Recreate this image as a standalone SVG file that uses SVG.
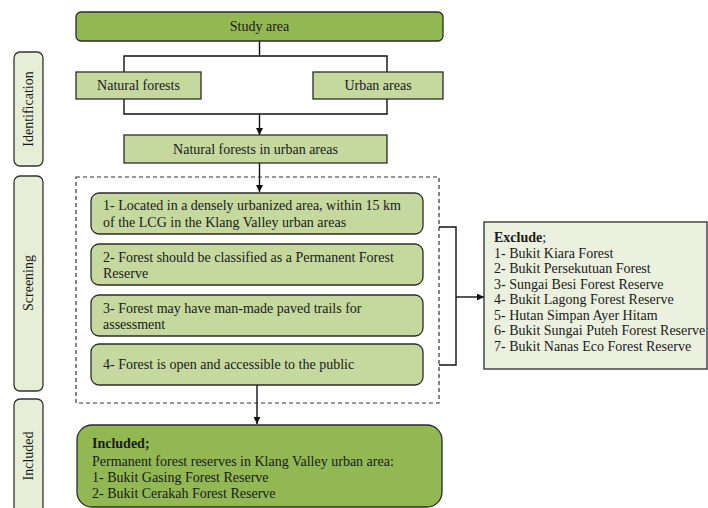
<svg xmlns="http://www.w3.org/2000/svg" width="708" height="508" viewBox="0 0 708 508">
<style>
text{font-family:"Liberation Serif","Times New Roman",serif;fill:#1a1a1a}
.dark{fill:#92b853;stroke:#2b2b2b;stroke-width:1.3}
.light{fill:#c5d89e;stroke:#2b2b2b;stroke-width:1.3}
.pale{fill:#ebf1de;stroke:#2b2b2b;stroke-width:1.3}
.side{fill:#e6eed5;stroke:#333;stroke-width:1.3}
.ln{fill:none;stroke:#111;stroke-width:1.4}
.c{font-size:14px;text-anchor:middle}
.t{font-size:14px}
.e{font-size:14px}
.v{font-size:14px;text-anchor:middle}
</style>
<defs>
<marker id="ah" viewBox="0 0 10 10" refX="10" refY="5" markerWidth="7" markerHeight="7" orient="auto" markerUnits="userSpaceOnUse">
<path d="M0,0 L10,5 L0,10 z" fill="#111"/>
</marker>
</defs>

<g id="label-identification"><rect class="side" x="14" y="52" width="29" height="114" rx="6"/><text class="v" transform="translate(33,109) rotate(-90)">Identification</text></g>
<g id="label-screening"><rect class="side" x="14" y="176" width="29" height="215" rx="6"/><text class="v" transform="translate(33,283) rotate(-90)">Screening</text></g>
<g id="label-included"><rect class="side" x="14" y="399" width="29" height="120" rx="6"/><text class="v" transform="translate(33,456) rotate(-90)">Included</text></g>

<g id="connectors">
<path class="ln" d="M259.5,41 V56 M124,72 V56 H387 V72"/>
<path class="ln" d="M124,99 V114 H387 V99 M259.5,114 V135" marker-end="url(#ah)"/>
<path class="ln" d="M259.5,163 V192" marker-end="url(#ah)"/>
<path class="ln" d="M439,227 H456 V365 H439"/>
<path class="ln" d="M456,297 H484" marker-end="url(#ah)"/>
<path class="ln" d="M257,385 V424" marker-end="url(#ah)"/>
</g>

<g id="study-area"><rect class="dark" x="76" y="12" width="367" height="29" rx="5"/><text class="c" x="259.5" y="31">Study area</text></g>
<g id="natural-forests"><rect class="light" x="76" y="72" width="125" height="27"/><text class="c" x="138.5" y="90">Natural forests</text></g>
<g id="urban-areas"><rect class="light" x="313" y="72" width="130" height="27"/><text class="c" x="378" y="90">Urban areas</text></g>
<g id="natural-forests-urban"><rect class="light" x="124" y="135" width="263" height="28"/><text class="c" x="255.5" y="154">Natural forests in urban areas</text></g>

<g id="screening-group"><rect x="76" y="177" width="363" height="226" fill="none" stroke="#333" stroke-width="1.2" stroke-dasharray="4,3"/></g>
<g id="criterion-1"><rect class="light" x="91" y="193" width="332" height="41" rx="8"/><text class="t" x="103" y="210">1- Located in a densely urbanized area, within 15 km</text><text class="t" x="103" y="227">of the LCG in the Klang Valley urban areas</text></g>
<g id="criterion-2"><rect class="light" x="91" y="244" width="332" height="41" rx="8"/><text class="t" x="103" y="262">2- Forest should be classified as a Permanent Forest</text><text class="t" x="103" y="278">Reserve</text></g>
<g id="criterion-3"><rect class="light" x="91" y="295" width="332" height="41" rx="8"/><text class="t" x="103" y="313">3- Forest may have man-made paved trails for</text><text class="t" x="103" y="329">assessment</text></g>
<g id="criterion-4"><rect class="light" x="91" y="344" width="332" height="41" rx="8"/><text class="t" x="103" y="369">4- Forest is open and accessible to the public</text></g>

<g id="exclude"><rect class="pale" x="484" y="222" width="223" height="147"/>
<text class="e" x="494" y="242"><tspan font-weight="bold">Exclude</tspan>;</text>
<text class="e" x="494" y="257.5">1- Bukit Kiara Forest</text>
<text class="e" x="494" y="273">2- Bukit Persekutuan Forest</text>
<text class="e" x="494" y="288.5">3- Sungai Besi Forest Reserve</text>
<text class="e" x="494" y="304">4- Bukit Lagong Forest Reserve</text>
<text class="e" x="494" y="319.5">5- Hutan Simpan Ayer Hitam</text>
<text class="e" x="494" y="335">6- Bukit Sungai Puteh Forest Reserve</text>
<text class="e" x="494" y="350.5">7- Bukit Nanas Eco Forest Reserve</text>
</g>

<g id="included"><rect class="dark" x="77" y="425" width="365" height="82" rx="15"/>
<text class="t" x="92" y="448" font-weight="bold">Included;</text>
<text class="t" x="92" y="466">Permanent forest reserves in Klang Valley urban area:</text>
<text class="t" x="92" y="482">1- Bukit Gasing Forest Reserve</text>
<text class="t" x="92" y="498">2- Bukit Cerakah Forest Reserve</text>
</g>
</svg>
